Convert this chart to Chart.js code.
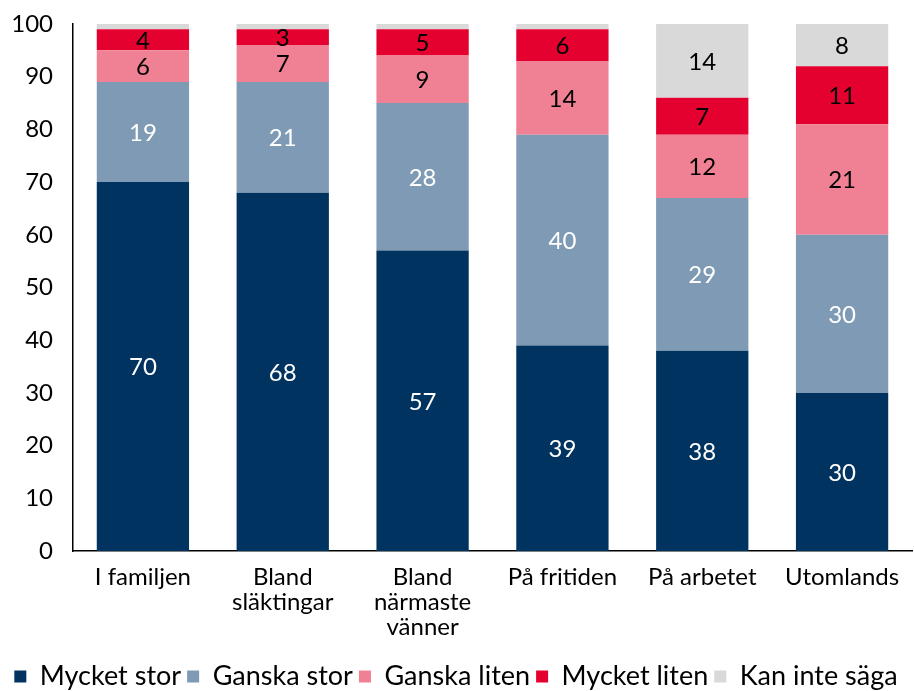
<!DOCTYPE html>
<html>
<head>
<meta charset="utf-8">
<script src="https://cdn.jsdelivr.net/npm/chart.js@4"></script>
<style>
  html, body { margin: 0; padding: 0; background: #fff; }
  #wrap { width: 914px; height: 691px; }
</style>
</head>
<body>
<div id="wrap"><canvas id="chart" width="914" height="691"></canvas></div>
<script>
// kategorier och serier
const categories = [
    'I familjen',
    ['Bland', 'släktingar'],
    ['Bland', 'närmaste', 'vänner'],
    'På fritiden',
    'På arbetet',
    'Utomlands'
];
const seriesNames = ['Mycket stor', 'Ganska stor', 'Ganska liten', 'Mycket liten', 'Kan inte säga'];
const mycketStor = [70, 68, 57, 39, 38, 30];
const ganskaStor = [19, 21, 28, 40, 29, 30];
const ganskaLiten = [6, 7, 9, 14, 12, 21];
const mycketLiten = [4, 3, 5, 6, 7, 11];
const kanInteSaga = [1, 1, 1, 1, 14, 8];
const yTicks = [0, 10, 20, 30, 40, 50, 60, 70, 80, 90, 100];

const colors = ['#00335F', '#7F9AB4', '#F08093', '#E4002F', '#D9D9D9'];
const labelColors = ['#ffffff', '#ffffff', '#000000', '#000000', '#000000'];
const allData = [mycketStor, ganskaStor, ganskaLiten, mycketLiten, kanInteSaga];

const fontFamily = 'Lato, "Noto Sans", sans-serif';

// siffror i staplarna
const barLabels = {
    id: 'barLabels',
    afterDatasetsDraw(chart) {
        const ctx = chart.ctx;
        ctx.save();
        ctx.font = '24px ' + fontFamily;
        ctx.textAlign = 'center';
        ctx.textBaseline = 'middle';
        chart.data.datasets.forEach((ds, i) => {
            const meta = chart.getDatasetMeta(i);
            meta.data.forEach((bar, j) => {
                const v = ds.data[j];
                if (v < 2) return;
                ctx.fillStyle = labelColors[i];
                ctx.fillText(String(v), bar.x, (bar.y + bar.base) / 2 + 1);
            });
        });
        ctx.restore();
    }
};

new Chart(document.getElementById('chart'), {
    type: 'bar',
    data: {
        labels: categories,
        datasets: seriesNames.map((name, i) => ({
            label: name,
            data: allData[i],
            backgroundColor: colors[i],
            borderWidth: 0,
            barPercentage: 0.66,
            categoryPercentage: 1
        }))
    },
    options: {
        responsive: false,
        animation: false,
        layout: { padding: { top: 24, right: 2, left: 0, bottom: -9 } },
        plugins: {
            legend: {
                position: 'bottom',
                labels: {
                    color: '#000',
                    font: { size: 27, family: fontFamily },
                    boxWidth: 12,
                    boxHeight: 12,
                    padding: 6
                }
            },
            tooltip: { enabled: false }
        },
        scales: {
            x: {
                stacked: true,
                grid: { display: false, drawTicks: false },
                border: { display: true, color: '#000', width: 1.5 },
                ticks: {
                    color: '#000',
                    font: { size: 24, family: fontFamily, lineHeight: 1.04 },
                    padding: 14,
                    maxRotation: 0,
                    autoSkip: false
                },
                afterFit(scale) { scale.height = 106; }
            },
            y: {
                stacked: true,
                min: 0,
                max: 100,
                afterBuildTicks(scale) { scale.ticks = yTicks.map(v => ({ value: v })); },
                grid: { display: false, drawTicks: false },
                border: { display: true, color: '#000', width: 1.5 },
                ticks: {
                    color: '#000',
                    font: { size: 24, family: fontFamily },
                    padding: 20
                },
                afterFit(scale) {
                    scale.width = 73;
                    scale.paddingTop = 0;
                    scale.paddingBottom = 0;
                }
            }
        }
    },
    plugins: [barLabels]
});
</script>
</body>
</html>
